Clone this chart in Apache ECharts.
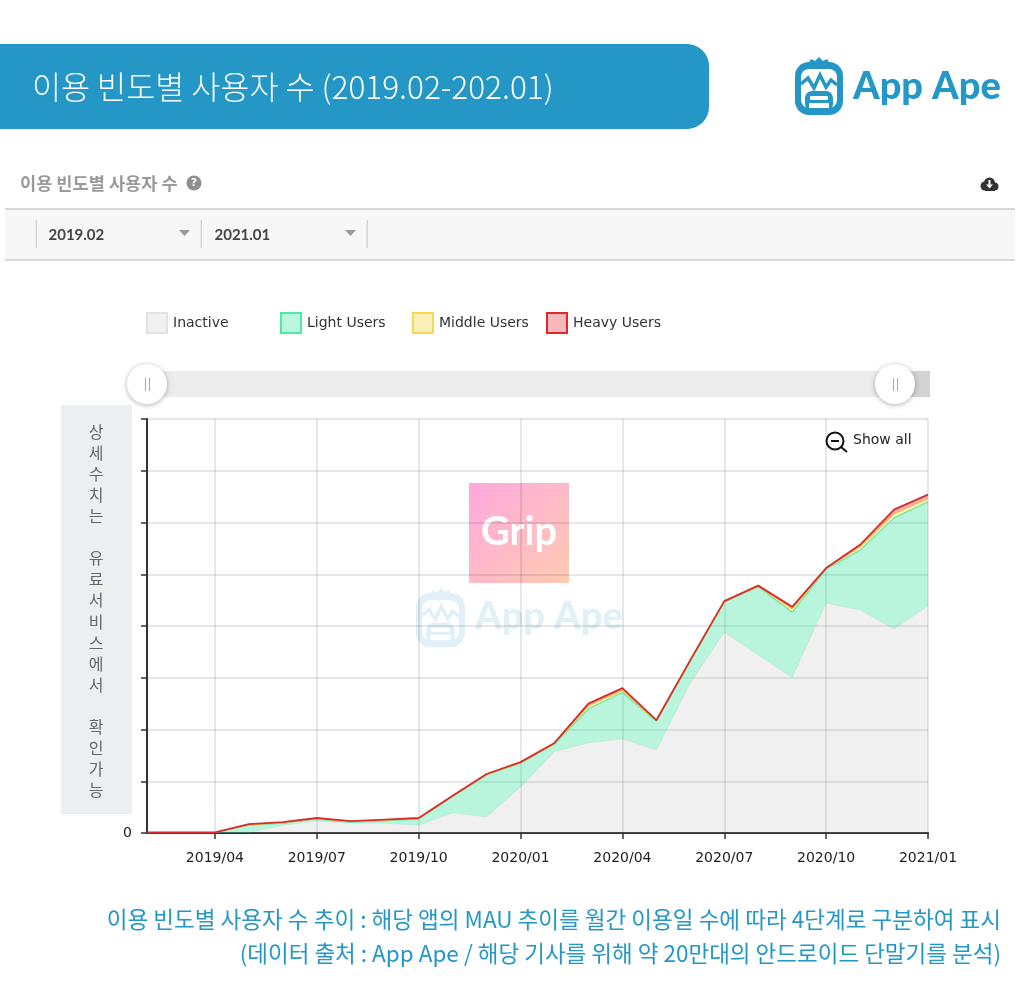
<!DOCTYPE html>
<html><head><meta charset="utf-8">
<style>html,body{margin:0;padding:0;background:#fff}#c{width:1024px;height:996px}</style>
<script src="https://cdn.jsdelivr.net/npm/echarts@6/dist/echarts.min.js"></script>
</head><body><div id="c"></div>
<script>
const months=['2019/02','2019/03','2019/04','2019/05','2019/06','2019/07','2019/08','2019/09','2019/10','2019/11','2019/12','2020/01','2020/02','2020/03','2020/04','2020/05','2020/06','2020/07','2020/08','2020/09','2020/10','2020/11','2020/12','2021/01'];
const inactive=[0,0,0,0,.15,.23,.19,.19,.15,.39,.31,.89,1.57,1.74,1.82,1.60,2.90,3.88,3.44,3.00,4.44,4.31,3.94,4.39];
const light=[.01,.01,.01,.15,.04,.04,.02,.05,.12,.31,.81,.46,.15,.66,.90,.56,.42,.58,1.32,1.27,.66,1.16,2.15,2.01];
const middle=[0,0,0,.01,.01,.01,.01,.01,.01,.01,.01,.01,.01,.06,.04,.01,.01,.01,.01,.06,.01,.06,.08,.06];
const heavy=[0,0,0,.01,.01,.01,.01,.01,.01,.01,.01,.01,.01,.04,.04,.01,.01,.01,.01,.04,.01,.04,.08,.08];
const seriesNames=['Inactive','Light Users','Middle Users','Heavy Users'];
const seriesValues=[inactive,light,middle,heavy];
const lineColors=['#dcdcdc','#4fe8a8','#f5d94e','#dc2a2a'];
const fillColors=['rgba(170,170,170,0.18)','rgba(60,225,160,0.36)','rgba(245,220,90,0.4)','rgba(235,60,70,0.38)'];
const swatchFills=['#f0f0f0','#b9f6dc','#faf0b8','#f6b8ba'];
const legendLeft=[146,280,412,546];
const BLUE='#2497c6', WM='#e0f0f6', KR='"Noto Sans CJK KR","Noto Sans",sans-serif', LAT='"DejaVu Sans",sans-serif';
const tickAt=i=>(i-2)%3===0;

function logo(x,y,s,b,z){
  const r=(rx,ry,w,h,rad,fill)=>({type:'rect',z:z,shape:{x:rx,y:ry,width:w,height:h,r:rad},style:{fill:fill}});
  return {type:'group',x:x,y:y,scaleX:s,scaleY:s,silent:true,children:[
    {type:'polygon',z:z,shape:{points:[[13,7],[16,2],[20,4],[24,0],[28,4],[32,2],[35,7]]},style:{fill:b}},
    r(0,5,48,53,14,b),
    r(6,12,36,39,8,'#fff'),
    {type:'polyline',z:z,shape:{points:[[6,27],[13,21],[19,31],[25,18],[31,30],[36,23],[42,28]]},style:{stroke:b,lineWidth:3.5,fill:null}},
    r(10,34,28,20,7,b),
    r(15,39,18,4,1,'#fff'),
    r(14,46,20,5,0,'#fff')
  ]};
}
function handle(cx){
  return [
    {type:'circle',shape:{cx:cx,cy:384,r:20},z:6,style:{fill:'#fff',shadowBlur:5,shadowColor:'rgba(0,0,0,0.3)',shadowOffsetY:1}},
    {type:'rect',shape:{x:cx-2,y:378,width:1,height:13},z:7,style:{fill:'#aaa'}},
    {type:'rect',shape:{x:cx+2,y:378,width:1,height:13},z:7,style:{fill:'#aaa'}}
  ];
}
const graphics=[
  {type:'rect',shape:{x:-30,y:44,width:739,height:85,r:22},style:{fill:BLUE}},
  {type:'text',x:32,y:87,style:{text:'이용 빈도별 사용자 수 (2019.02-202.01)',font:'300 31.6px '+KR,fill:'#fff',textVerticalAlign:'middle'}},
  logo(795,57,1,BLUE,2),
  {type:'text',x:853,y:87,style:{text:'App Ape',font:'900 38px "Lato",'+KR,fill:BLUE,textVerticalAlign:'middle'}},
  {type:'text',x:20,y:183,style:{text:'이용 빈도별 사용자 수',font:'bold 17.6px '+KR,fill:'#9a9a9a',textVerticalAlign:'middle'}},
  {type:'circle',shape:{cx:194,cy:183,r:7.5},style:{fill:'#8f8f8f'}},
  {type:'text',x:194,y:183,style:{text:'?',font:'bold 11px '+LAT,fill:'#fff',textAlign:'center',textVerticalAlign:'middle'}},
  {type:'circle',shape:{cx:985,cy:186,r:4.5},style:{fill:'#333'}},
  {type:'circle',shape:{cx:989.5,cy:183,r:5.5},style:{fill:'#333'}},
  {type:'circle',shape:{cx:994.5,cy:186.5,r:4},style:{fill:'#333'}},
  {type:'rect',shape:{x:985,y:186,width:10,height:5},style:{fill:'#333'}},
  {type:'rect',shape:{x:988.5,y:180,width:2,height:5},style:{fill:'#fff'}},
  {type:'polygon',shape:{points:[[986,184.5],[993,184.5],[989.5,188.5]]},style:{fill:'#fff'}},
  {type:'rect',shape:{x:5,y:209,width:1010,height:51},style:{fill:'#f7f7f7'}},
  {type:'rect',shape:{x:5,y:208,width:1010,height:2},style:{fill:'#d9d9d9'}},
  {type:'rect',shape:{x:5,y:259,width:1010,height:2},style:{fill:'#d9d9d9'}},
  {type:'rect',shape:{x:35.5,y:220,width:1.5,height:28},style:{fill:'#d5d5d5'}},
  {type:'rect',shape:{x:200.5,y:220,width:1.5,height:28},style:{fill:'#d5d5d5'}},
  {type:'rect',shape:{x:366.5,y:220,width:1.5,height:28},style:{fill:'#d5d5d5'}},
  {type:'text',x:48.5,y:235,style:{text:'2019.02',font:'bold 15px "Lato",'+KR,fill:'#444',textVerticalAlign:'middle'}},
  {type:'text',x:214.5,y:235,style:{text:'2021.01',font:'bold 15px "Lato",'+KR,fill:'#444',textVerticalAlign:'middle'}},
  {type:'polygon',shape:{points:[[179,230],[190,230],[184.5,236]]},style:{fill:'#9a9a9a'}},
  {type:'polygon',shape:{points:[[345,230],[356,230],[350.5,236]]},style:{fill:'#9a9a9a'}},
  {type:'rect',shape:{x:147,y:371,width:783,height:26},style:{fill:'#ececec'}},
  {type:'rect',shape:{x:895,y:371,width:35,height:26},z:1,style:{fill:'#d2d2d2'}},
  ...handle(147),...handle(895),
  {type:'rect',shape:{x:61,y:405,width:71,height:409},style:{fill:'#eceef2'}},
  {type:'text',x:96,y:421,style:{text:'상\n세\n수\n치\n는\n \n유\n료\n서\n비\n스\n에\n서\n \n확\n인\n가\n능',font:'16px '+KR,lineHeight:21.1,fill:'#666',textAlign:'center',textVerticalAlign:'top'}},
  {type:'circle',shape:{cx:835,cy:441,r:8.5},z:5,style:{fill:'none',stroke:'#111',lineWidth:2}},
  {type:'rect',shape:{x:831,y:440,width:8,height:2},z:5,style:{fill:'#111'}},
  {type:'line',shape:{x1:841,y1:447,x2:847,y2:452},z:5,style:{stroke:'#111',lineWidth:2}},
  {type:'text',x:853,y:440,z:5,style:{text:'Show all',font:'14px '+LAT,fill:'#222',textVerticalAlign:'middle'}},
  {type:'rect',shape:{x:469,y:483,width:100,height:100},z:-1,style:{fill:new echarts.graphic.LinearGradient(0,0,1,1,[{offset:0,color:'#ffa8dd'},{offset:1,color:'#ffcbb2'}])}},
  {type:'text',x:519,y:532,z:-1,style:{text:'Grip',font:'bold 40px "Lato",'+KR,fill:'#fff',textAlign:'center',textVerticalAlign:'middle'}},
  logo(416,588,1.02,WM,-1),
  {type:'text',x:475,y:617,z:-1,style:{text:'App Ape',font:'900 38px "Lato",'+KR,fill:WM,textVerticalAlign:'middle'}},
  {type:'text',x:1001,y:919,style:{text:'이용 빈도별 사용자 수 추이 : 해당 앱의 MAU 추이를 월간 이용일 수에 따라 4단계로 구분하여 표시',font:'22.55px '+KR,fill:BLUE,textAlign:'right',textVerticalAlign:'middle'}},
  {type:'text',x:1001,y:953,style:{text:'(데이터 출처 : App Ape / 해당 기사를 위해 약 20만대의 안드로이드 단말기를 분석)',font:'22.5px '+KR,fill:BLUE,textAlign:'right',textVerticalAlign:'middle'}}
];

const chart=echarts.init(document.getElementById('c'));
chart.setOption({
  animation:false,
  backgroundColor:'#fff',
  legend:seriesNames.map((n,i)=>({
    data:[{name:n,icon:'rect',itemStyle:{color:swatchFills[i],borderColor:i===0?'#e2e2e2':lineColors[i],borderWidth:2}}],
    left:legendLeft[i],top:312,itemWidth:20,itemHeight:20,selectedMode:false,padding:0,itemGap:0,
    textStyle:{fontFamily:LAT,fontSize:14,color:'#333',padding:[5,0,0,1]}
  })),
  grid:{left:147,top:419,width:781,height:414,containLabel:false},
  xAxis:{type:'category',boundaryGap:false,data:months,
    axisLine:{lineStyle:{color:'#333',width:2}},
    axisTick:{interval:tickAt,length:6,lineStyle:{color:'#333',width:1.5}},
    axisLabel:{interval:tickAt,margin:18,fontFamily:LAT,fontSize:14,color:'#222',hideOverlap:false,showMaxLabel:true},
    splitLine:{show:true,interval:tickAt,lineStyle:{color:'rgba(0,0,0,0.13)',width:1.5}}},
  yAxis:{type:'value',min:0,max:8,interval:1,
    axisLine:{show:true,lineStyle:{color:'#333',width:2}},
    axisTick:{show:true,length:6,lineStyle:{color:'#333',width:1.5}},
    axisLabel:{formatter:v=>v===0?'0':'',margin:15,fontFamily:LAT,fontSize:14,color:'#222',padding:[5,0,0,0]},
    splitLine:{show:true,lineStyle:{color:'rgba(0,0,0,0.13)',width:1.5}}},
  series:seriesNames.map((n,i)=>({
    name:n,type:'line',stack:'users',data:seriesValues[i],symbol:'none',showSymbol:false,
    itemStyle:{color:swatchFills[i]},
    lineStyle:{color:i===0?'rgba(0,0,0,0.04)':lineColors[i],width:i===3?1.8:1.2},
    areaStyle:{color:fillColors[i],opacity:1},z:2+i
  })),
  graphic:graphics
});
</script></body></html>
